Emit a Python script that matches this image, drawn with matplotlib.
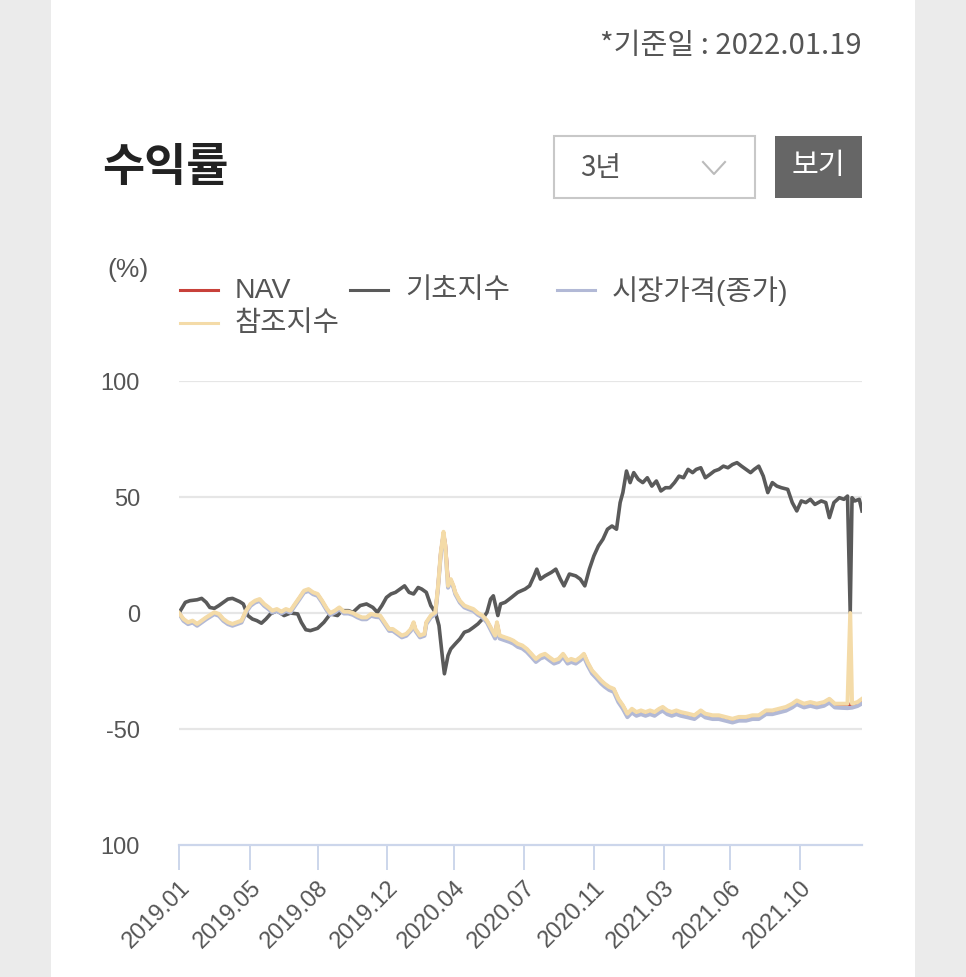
import numpy as np
import matplotlib.pyplot as plt
from matplotlib.patches import Rectangle
from matplotlib.lines import Line2D

plt.rcParams['font.family'] = ['Liberation Sans', 'Noto Sans CJK KR', 'DejaVu Sans']

# x = trading day index from 2019.01
tick_days = [0, 78, 153, 230, 304, 381, 458, 535, 608, 686]
tick_labels = ['2019.01', '2019.05', '2019.08', '2019.12', '2020.04',
               '2020.07', '2020.11', '2021.03', '2021.06', '2021.10']

# 기초지수
base_days = [0, 7, 12, 20, 25, 30, 34, 39, 44, 49,
             54, 59, 67, 71, 76, 81, 86, 91, 96, 101,
             108, 116, 123, 131, 135, 140, 145, 153, 160, 167,
             175, 180, 187, 192, 200, 207, 214, 219, 224, 229,
             234, 239, 244, 249, 254, 259, 264, 268, 273, 278,
             283, 287, 291, 293, 297, 300, 305, 310, 315, 320,
             325, 330, 335, 340, 344, 347, 352, 355, 360, 367,
             374, 382, 387, 392, 395, 399, 404, 411, 416, 421,
             425, 431, 438, 443, 448, 453, 458, 463, 468, 473,
             478, 483, 487, 490, 494, 498, 502, 507, 512, 517,
             522, 527, 532, 537, 542, 547, 552, 557, 562, 567,
             571, 576, 581, 586, 591, 596, 601, 606, 611, 616,
             621, 626, 631, 635, 640, 645, 650, 655, 660, 665,
             672, 677, 682, 687, 692, 697, 702, 709, 714, 718,
             723, 729, 734, 738, 741, 743, 746, 751, 754]
base = [0, 4.6, 5.3, 5.7, 6.3, 4.6, 2.4, 2.0, 3.2, 4.6,
        6.0, 6.3, 4.9, 3.9, -1.1, -2.6, -3.3, -4.4, -2.6, -0.4,
        1.0, -1.1, 0, -0.4, -4.0, -7.2, -7.6, -6.6, -4.0, -0.4,
        -1.1, 1.0, 1.0, 0.3, 3.2, 3.9, 2.4, 0.3, 3.2, 6.7,
        8.2, 8.9, 10.3, 11.7, 8.9, 8.2, 11.0, 10.3, 8.9, 3.2,
        0.3, -5.4, -19.8, -26.2, -18.3, -15.5, -13.3, -11.2, -8.3, -7.6,
        -6.2, -4.7, -2.6, 0.3, 6.0, 7.4, -1.1, 3.9, 4.6, 6.7,
        8.9, 10.3, 11.7, 16.0, 18.9, 14.6, 16.0, 17.5, 18.9, 14.6,
        11.7, 16.8, 16.0, 14.6, 11.7, 18.9, 24.6, 28.9, 31.8, 36.1,
        37.5, 36.1, 47.6, 51.9, 61.2, 56.2, 60.5, 57.6, 56.2, 58.3,
        54.7, 56.9, 52.6, 54.0, 54.0, 56.2, 59.0, 58.3, 61.9, 60.5,
        61.9, 62.6, 58.3, 59.7, 61.2, 61.9, 63.3, 62.6, 64.0, 64.8,
        63.3, 61.9, 60.5, 61.9, 63.3, 59.0, 51.9, 56.2, 54.7, 54.0,
        53.3, 47.6, 44.0, 48.3, 47.6, 49.0, 46.8, 48.3, 47.6, 41.1,
        47.6, 49.7, 49.0, 50.4, 0, 49.7, 48.3, 49.0, 44.0]

# 참조지수 / NAV / 시장가격(종가) share the same dates
ref_days = [0, 5, 10, 15, 20, 25, 30, 34, 39, 44,
            49, 54, 59, 64, 69, 74, 79, 84, 89, 94,
            99, 103, 108, 113, 118, 123, 128, 133, 138, 143,
            148, 153, 158, 163, 167, 172, 177, 182, 187, 192,
            197, 202, 207, 212, 217, 222, 227, 232, 236, 241,
            246, 251, 256, 259, 261, 266, 271, 273, 278, 283,
            286, 289, 292, 294, 297, 300, 303, 305, 310, 315,
            320, 325, 330, 335, 340, 345, 349, 351, 354, 360,
            365, 369, 374, 379, 384, 389, 394, 399, 404, 409,
            414, 419, 424, 429, 433, 438, 443, 447, 451, 456,
            461, 466, 470, 475, 480, 485, 490, 495, 500, 505,
            510, 515, 520, 525, 530, 534, 539, 544, 549, 554,
            562, 569, 576, 581, 589, 596, 603, 611, 618, 626,
            633, 640, 648, 655, 662, 670, 677, 682, 690, 697,
            704, 712, 718, 724, 732, 738, 741, 743, 749, 754]
ref = [0, -2.6, -4.0, -3.3, -4.7, -3.3, -1.9, -0.9, 0.3, -0.4,
       -2.6, -4.0, -4.7, -4.0, -3.3, 1.0, 3.9, 5.3, 6.0, 3.9,
       2.4, 1.0, 1.7, 0.6, 1.7, 1.0, 3.9, 6.7, 9.6, 10.3,
       8.9, 8.2, 5.3, 2.0, 0, 1.0, 2.4, 0.6, 0.6, 0,
       -1.1, -1.9, -1.9, -0.4, -0.9, -1.1, -4.0, -6.9, -6.9, -8.3,
       -9.7, -9.0, -6.9, -4.0, -6.9, -9.7, -9.0, -4.0, -1.1, 0.3,
       11.7, 26.1, 35.0, 28.9, 11.7, 14.6, 11.7, 8.9, 5.3, 3.2,
       2.4, 1.7, 0, -1.1, -3.3, -6.9, -9.7, -4.0, -9.7, -10.5,
       -11.2, -11.9, -13.3, -14.0, -15.5, -17.6, -19.8, -18.3, -17.6, -19.1,
       -20.5, -19.8, -17.6, -20.5, -19.8, -20.5, -19.1, -17.6, -21.2, -24.8,
       -26.9, -29.1, -30.5, -31.9, -32.7, -37.0, -39.8, -43.4, -41.3, -42.7,
       -42.0, -42.7, -42.0, -42.7, -41.3, -40.5, -42.0, -42.7, -42.0, -42.7,
       -43.4, -44.1, -42.0, -43.4, -44.1, -44.1, -44.8, -45.6, -44.8, -44.8,
       -44.1, -44.1, -42.0, -42.0, -41.3, -40.5, -39.1, -37.7, -39.1, -38.4,
       -39.1, -38.4, -37.0, -39.1, -39.1, -39.1, 0, -39.1, -38.4, -37.0]
nav = [0, -2.9, -4.3, -3.6, -5.0, -3.6, -2.2, -1.2, 0.0, -0.7,
       -2.9, -4.3, -5.0, -4.3, -3.6, 0.7, 3.6, 5.0, 5.7, 3.6,
       2.1, 0.7, 1.4, 0.3, 1.4, 0.7, 3.6, 6.4, 9.3, 10.0,
       8.6, 7.9, 5.0, 1.7, -0.3, 0.7, 2.1, 0.3, 0.3, -0.3,
       -1.4, -2.2, -2.2, -0.7, -1.2, -1.4, -4.3, -7.2, -7.2, -8.6,
       -10.0, -9.3, -7.2, -4.3, -7.2, -10.0, -9.3, -4.3, -1.4, 0.0,
       11.4, 25.8, 34.2, 29.5, 14.0, 14.3, 11.4, 8.6, 5.0, 2.9,
       2.1, 1.4, -0.3, -1.4, -3.6, -7.2, -10.0, -4.3, -10.0, -10.8,
       -11.5, -12.2, -13.6, -14.3, -15.8, -17.9, -20.1, -18.6, -17.9, -19.4,
       -20.8, -20.1, -17.9, -20.8, -20.1, -20.8, -19.4, -17.9, -21.5, -25.1,
       -27.2, -29.4, -30.8, -32.2, -33.0, -37.3, -40.1, -43.7, -41.6, -43.0,
       -42.3, -43.0, -42.3, -43.0, -41.6, -40.8, -42.3, -43.0, -42.3, -43.0,
       -43.7, -44.4, -42.3, -43.7, -44.4, -44.4, -45.1, -45.9, -45.1, -45.1,
       -44.4, -44.4, -42.3, -42.3, -41.6, -40.8, -39.4, -38.0, -39.4, -38.7,
       -39.4, -38.7, -37.3, -39.4, -39.4, -39.4, -39.4, -39.4, -38.7, -37.3]
market = [-0.2, -3.4, -4.8, -4.1, -5.5, -4.1, -2.7, -1.7, -0.5, -1.2,
          -3.4, -4.8, -5.5, -4.8, -4.1, 0.2, 3.1, 4.5, 5.2, 3.1,
          1.6, 0.2, 0.9, -0.2, 0.9, 0.2, 3.1, 5.9, 8.8, 9.5,
          8.1, 7.4, 4.5, 1.2, -0.8, 0.2, 1.6, -0.2, -0.2, -0.8,
          -1.9, -2.7, -2.7, -1.2, -1.7, -1.9, -4.8, -7.7, -7.7, -9.1,
          -10.5, -9.8, -7.7, -4.8, -7.7, -10.5, -9.8, -4.8, -1.9, -0.5,
          10.9, 25.3, 33.8, 28.1, 10.9, 13.8, 10.9, 8.1, 4.5, 2.4,
          1.6, 0.9, -0.8, -1.9, -4.1, -8.0, -11.0, -5.5, -11.0, -11.8,
          -12.5, -13.2, -14.6, -15.3, -16.8, -18.9, -21.1, -19.6, -18.9, -20.4,
          -21.8, -21.1, -18.9, -21.8, -21.1, -21.8, -20.4, -18.9, -22.5, -26.1,
          -28.2, -30.4, -31.8, -33.2, -34.0, -38.4, -41.3, -44.9, -42.9, -44.3,
          -43.6, -44.3, -43.6, -44.3, -42.9, -42.1, -43.6, -44.3, -43.6, -44.3,
          -45.0, -45.7, -43.6, -45.0, -45.7, -45.7, -46.4, -47.2, -46.4, -46.4,
          -45.7, -45.7, -43.6, -43.6, -42.9, -42.1, -40.7, -39.3, -40.7, -40.0,
          -40.7, -40.0, -38.6, -40.7, -40.9, -41.0, -40.9, -40.8, -40.1, -39.0]

W, H = 966, 977
c_nav = '#c8413a'
c_base = '#5a5a5a'
c_market = '#b2b9d6'
c_ref = '#f4dba8'
txt = '#555555'
kr = ['Noto Sans CJK KR', 'DejaVu Sans']


def fx(x):
    return x / W


def fy(y):
    return 1 - y / H


fig = plt.figure(figsize=(W / 100, H / 100), dpi=100)
fig.patch.set_facecolor('#ebebeb')
fig.add_artist(Rectangle((fx(51), 0), fx(915) - fx(51), 1, transform=fig.transFigure,
                         facecolor='white', edgecolor='none', zorder=0))

# header
fig.text(fx(862), fy(46), '*기준일 : 2022.01.19', ha='right', va='center', fontsize=21,
         color=txt, family=kr)
fig.text(fx(102), fy(168), '수익률', ha='left', va='center', fontsize=33, fontweight='bold',
         color='#222222', family=kr)
fig.add_artist(Rectangle((fx(554), fy(198)), fx(755) - fx(554), fy(136) - fy(198),
                         transform=fig.transFigure, facecolor='white', edgecolor='#c8c8c8', lw=1.5))
fig.text(fx(580), fy(168), '3년', ha='left', va='center', fontsize=20, color=txt, family=kr)
fig.add_artist(Line2D([fx(703), fx(714), fx(725)], [fy(162), fy(174), fy(162)],
                      transform=fig.transFigure, color='#bbbbbb', lw=1.5))
fig.add_artist(Rectangle((fx(775), fy(198)), fx(862) - fx(775), fy(136) - fy(198),
                         transform=fig.transFigure, facecolor='#666666', edgecolor='none'))
fig.text(fx(818.5), fy(166), '보기', ha='center', va='center', fontsize=21, color='white', family=kr)

# legend
fig.text(fx(107), fy(270), '(%)', ha='left', va='center', fontsize=19, color=txt)
legend_items = [('NAV', c_nav, 180, 290), ('기초지수', c_base, 350, 290),
                ('시장가격(종가)', c_market, 557, 290), ('참조지수', c_ref, 180, 323)]
for name, col, lx, ly in legend_items:
    fig.add_artist(Line2D([fx(lx), fx(lx + 38)], [fy(ly), fy(ly)], transform=fig.transFigure,
                          color=col, lw=2.2))
    fig.text(fx(lx + 55), fy(ly + 1), name, ha='left', va='center', fontsize=20.5, color=txt)

# chart
ax = fig.add_axes([fx(179), fy(845), fx(862) - fx(179), fy(381) - fy(845)])
ax.set_facecolor('none')
for v in [100, 50, 0, -50]:
    ax.axhline(v, color='#e6e6e6', lw=1.6, zorder=1)

ax.plot(ref_days, nav, color=c_nav, lw=2.6, zorder=2)
ax.plot(base_days, base, color=c_base, lw=2.6, zorder=3)
ax.plot(ref_days, market, color=c_market, lw=2.9, zorder=4)
ax.plot(ref_days, ref, color=c_ref, lw=2.9, zorder=5)

ax.set_xlim(0, 754)
ax.set_ylim(-100, 100)
ax.set_yticks([-100, -50, 0, 50, 100])
ax.set_yticklabels(['100', '-50', '0', '50', '100'])
ax.tick_params(axis='y', length=0, pad=28, labelsize=17, labelcolor=txt)
ax.set_xticks(tick_days)
ax.set_xticklabels(tick_labels, rotation=45, ha='right', rotation_mode='anchor')
ax.tick_params(axis='x', length=18, width=1.4, color='#ccd6eb', pad=5, labelsize=17, labelcolor=txt)
for s in ['top', 'left', 'right']:
    ax.spines[s].set_visible(False)
ax.spines['bottom'].set_color('#ccd6eb')
ax.spines['bottom'].set_linewidth(1.6)
ax.spines['bottom'].set_zorder(6)

fig.savefig('out.png', dpi=100)
